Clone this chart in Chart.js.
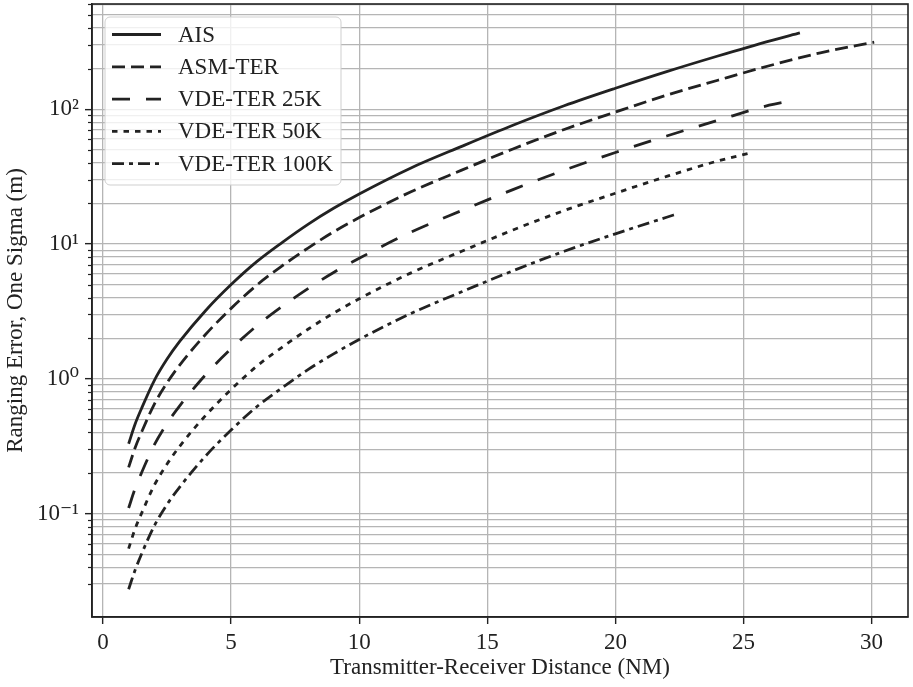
<!DOCTYPE html>
<html>
<head>
<meta charset="utf-8">
<script src="https://cdn.jsdelivr.net/npm/chart.js@4.4.1/dist/chart.umd.min.js"></script>
<style>
  html, body { margin: 0; padding: 0; background: #fff; }
  #chart { display: block; }
</style>
</head>
<body>
<canvas id="chart" width="913" height="687"></canvas>
<script>
// values (distance in NM, ranging error in m)
const aisDist = [1, 1.25, 1.5, 2, 2.5, 3, 4, 5, 6, 7, 8, 9, 10, 12, 14, 16, 18, 20, 22, 24, 26, 27.2];
const aisErr = [0.33, 0.46, 0.60, 0.97, 1.4, 1.9, 3.2, 5.0, 7.4, 10.3, 14, 18.4, 23.5, 36.5, 53, 76, 106, 143, 190, 248, 320, 368];

const asmDist = [1, 1.25, 1.5, 2, 2.5, 3, 4, 5, 6, 7, 8, 9, 10, 12, 14, 16, 18, 20, 22, 24, 26, 28, 30.1];
const asmErr = [0.22, 0.307, 0.40, 0.647, 0.933, 1.27, 2.13, 3.33, 4.95, 6.9, 9.33, 12.3, 15.7, 24.3, 35.3, 50.7, 70.7, 95.3, 127, 164, 210, 262, 314];

const vde25Dist = [1, 1.25, 1.5, 2, 2.5, 3, 4, 5, 6, 7, 8, 9, 10, 12, 14, 16, 18, 20, 22, 24, 26, 26.8];
const vde25Err = [0.11, 0.153, 0.20, 0.323, 0.467, 0.633, 1.07, 1.67, 2.47, 3.45, 4.67, 6.15, 7.83, 12.2, 17.7, 25.3, 35.3, 47.7, 63.3, 82.7, 107, 115];

const vde50Dist = [1, 1.25, 1.5, 2, 2.5, 3, 4, 5, 6, 7, 8, 9, 10, 12, 14, 16, 18, 20, 22, 24, 25.2];
const vde50Err = [0.055, 0.077, 0.10, 0.162, 0.233, 0.317, 0.533, 0.833, 1.24, 1.72, 2.33, 3.07, 3.92, 6.08, 8.83, 12.7, 17.7, 23.8, 31.7, 41.3, 47];

const vde100Dist = [1, 1.25, 1.5, 2, 2.5, 3, 4, 5, 6, 7, 8, 9, 10, 12, 14, 16, 18, 20, 22, 22.4];
const vde100Err = [0.0275, 0.038, 0.05, 0.081, 0.117, 0.158, 0.267, 0.417, 0.62, 0.86, 1.17, 1.53, 1.96, 3.04, 4.42, 6.33, 8.83, 11.9, 15.8, 16.7];

const seriesNames = ['AIS', 'ASM-TER', 'VDE-TER 25K', 'VDE-TER 50K', 'VDE-TER 100K'];
const xTicks = [0, 5, 10, 15, 20, 25, 30];

const FONT = '"Liberation Serif", "DejaVu Serif", "Times New Roman", serif';
const INK = '#222';
const GRID = '#b5b5b5';

function toPoints(xs, ys) {
    return xs.map((x, i) => ({ x: x, y: ys[i] }));
}

const sup = { '-': '\u207B', '0': '\u2070', '1': '\u00B9', '2': '\u00B2', '3': '\u00B3' };
function decadeLabel(v) {
    const e = Math.log10(v);
    if (Math.abs(e - Math.round(e)) > 1e-6) return '';
    return '10' + String(Math.round(e)).split('').map(c => sup[c]).join('');
}
function isDecade(v) {
    const e = Math.log10(v);
    return Math.abs(e - Math.round(e)) < 1e-6;
}
function isGridValue(v) {
    const m = v / Math.pow(10, Math.floor(Math.log10(v) + 1e-9));
    return Math.abs(m - Math.round(m)) < 1e-6;
}

const dashes = [[], [13, 6], [18, 16], [5.5, 6], [12, 5, 4, 5]];
const lines = [
    toPoints(aisDist, aisErr),
    toPoints(asmDist, asmErr),
    toPoints(vde25Dist, vde25Err),
    toPoints(vde50Dist, vde50Err),
    toPoints(vde100Dist, vde100Err)
];

// frame, minor ticks and legend box
const extras = {
    id: 'extras',
    afterDraw(chart) {
        const { ctx, chartArea: a } = chart;
        const y = chart.scales.y;
        ctx.save();
        // minor ticks on the log axis
        ctx.strokeStyle = INK;
        ctx.lineWidth = 1.2;
        y.ticks.forEach(t => {
            if (isGridValue(t.value) && !isDecade(t.value)) {
                const py = Math.round(y.getPixelForValue(t.value)) + 0.5;
                ctx.beginPath();
                ctx.moveTo(a.left, py);
                ctx.lineTo(a.left - 4, py);
                ctx.stroke();
            }
        });
        // top / right spines
        ctx.lineWidth = 1.6;
        ctx.strokeRect(a.left, a.top, a.right - a.left, a.bottom - a.top);

        // legend
        const bx = a.left + 13, by = a.top + 13, bw = 236, bh = 168;
        ctx.beginPath();
        ctx.roundRect(bx, by, bw, bh, 5);
        ctx.fillStyle = 'rgba(255,255,255,0.8)';
        ctx.fill();
        ctx.strokeStyle = '#cfcfcf';
        ctx.lineWidth = 1;
        ctx.stroke();
        ctx.font = '23px ' + FONT;
        ctx.textBaseline = 'middle';
        chart.data.datasets.forEach((ds, i) => {
            const ry = by + 17.5 + i * 32.3;
            ctx.beginPath();
            ctx.setLineDash(ds.borderDash);
            ctx.strokeStyle = INK;
            ctx.lineWidth = 2.8;
            ctx.moveTo(bx + 7, ry);
            ctx.lineTo(bx + 56, ry);
            ctx.stroke();
            ctx.setLineDash([]);
            ctx.fillStyle = INK;
            ctx.fillText(ds.label, bx + 73, ry + 1);
        });
        ctx.restore();
    }
};

new Chart(document.getElementById('chart').getContext('2d'), {
    type: 'line',
    data: {
        datasets: lines.map((pts, i) => ({
            label: seriesNames[i],
            data: pts,
            borderColor: INK,
            borderWidth: 2.8,
            borderDash: dashes[i],
            borderCapStyle: 'butt',
            pointRadius: 0,
            fill: false,
            cubicInterpolationMode: 'monotone'
        }))
    },
    options: {
        responsive: false,
        animation: false,
        events: [],
        layout: { padding: { left: 0, right: 5, top: 4, bottom: 0 } },
        plugins: {
            legend: { display: false },
            tooltip: { enabled: false }
        },
        scales: {
            x: {
                type: 'linear',
                min: -0.43,
                max: 31.42,
                afterFit: s => { s.height = 70; s.paddingLeft = 0; s.paddingRight = 0; },
                afterBuildTicks: s => { s.ticks = xTicks.map(v => ({ value: v })); },
                ticks: {
                    autoSkip: false,
                    maxRotation: 0,
                    padding: 5,
                    color: INK,
                    font: { family: FONT, size: 23 }
                },
                grid: {
                    color: GRID,
                    lineWidth: 1.3,
                    tickColor: INK,
                    tickWidth: 1.4,
                    tickLength: 7
                },
                border: { display: true, color: INK, width: 1.6 },
                title: {
                    display: true,
                    text: 'Transmitter-Receiver Distance (NM)',
                    color: INK,
                    font: { family: FONT, size: 23 },
                    padding: { top: 0, bottom: 5 }
                }
            },
            y: {
                type: 'logarithmic',
                min: 0.0171,
                max: 603,
                afterFit: s => { s.width = 92; s.paddingTop = 0; s.paddingBottom = 0; },
                ticks: {
                    autoSkip: false,
                    padding: 6,
                    color: INK,
                    font: { family: FONT, size: 23 },
                    callback: v => decadeLabel(v)
                },
                grid: {
                    color: c => isGridValue(c.tick.value) ? GRID : 'transparent',
                    lineWidth: 1.3,
                    tickColor: c => isDecade(c.tick.value) ? INK : 'transparent',
                    tickWidth: 1.4,
                    tickLength: 7
                },
                border: { display: true, color: INK, width: 1.6 },
                title: {
                    display: true,
                    text: 'Ranging Error, One Sigma (m)',
                    color: INK,
                    font: { family: FONT, size: 23 },
                    padding: { top: 2, bottom: 0 }
                }
            }
        }
    },
    plugins: [extras]
});
</script>
</body>
</html>
